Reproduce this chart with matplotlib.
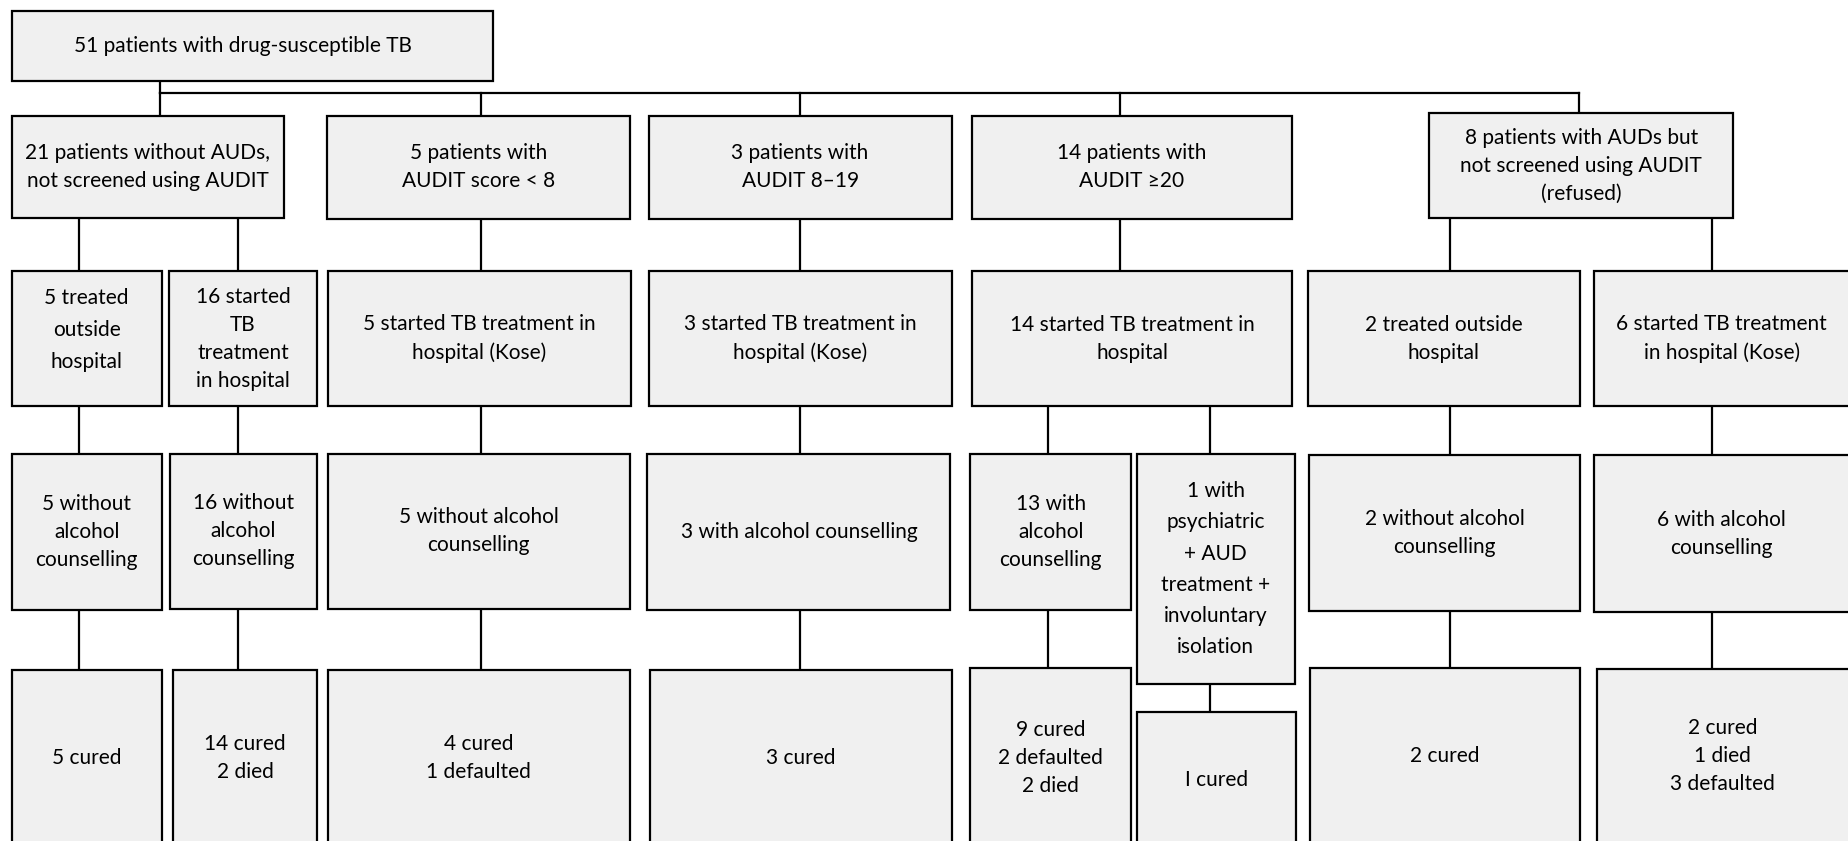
import matplotlib.pyplot as plt
from matplotlib.patches import Rectangle

# Box texts of the flowchart
root_label = "51 patients with drug-susceptible TB"
group_labels = [
    "21 patients without AUDs,\nnot screened using AUDIT",
    "5 patients with\nAUDIT score < 8",
    "3 patients with\nAUDIT 8\u201319",
    "14 patients with\nAUDIT \u226520",
    "8 patients with AUDs but\nnot screened using AUDIT\n(refused)",
]
start_labels = [
    "5 treated\noutside\nhospital",
    "16 started\nTB\ntreatment\nin hospital",
    "5 started TB treatment in\nhospital (Kose)",
    "3 started TB treatment in\nhospital (Kose)",
    "14 started TB treatment in\nhospital",
    "2 treated outside\nhospital",
    "6 started TB treatment\nin hospital (Kose)",
]
counsel_labels = [
    "5 without\nalcohol\ncounselling",
    "16 without\nalcohol\ncounselling",
    "5 without alcohol\ncounselling",
    "3 with alcohol counselling",
    "13 with\nalcohol\ncounselling",
    "1 with\npsychiatric\n+ AUD\ntreatment +\ninvoluntary\nisolation",
    "2 without alcohol\ncounselling",
    "6 with alcohol\ncounselling",
]
outcome_labels = [
    "5 cured",
    "14 cured\n2 died",
    "4 cured\n1 defaulted",
    "3 cured",
    "9 cured\n2 defaulted\n2 died",
    "I cured",
    "2 cured",
    "2 cured\n1 died\n3 defaulted",
]

# layout (x0, y0, x1, y1) in a 1568 x 713 frame, y downwards
root_box = (10, 9, 418, 69)
group_boxes = [(10, 98, 241, 185), (277, 98, 534, 186), (550, 98, 807, 186),
               (824, 98, 1096, 186), (1212, 96, 1470, 185)]
start_boxes = [(10, 230, 137, 344), (143, 230, 269, 344), (278, 230, 535, 344),
               (550, 230, 807, 344), (824, 230, 1096, 344), (1109, 230, 1340, 344),
               (1352, 230, 1580, 344)]
counsel_boxes = [(10, 385, 137, 517), (144, 385, 269, 516), (278, 385, 534, 516),
                 (549, 385, 806, 517), (823, 385, 959, 517), (964, 385, 1098, 580),
                 (1110, 386, 1340, 518), (1352, 386, 1580, 519)]
outcome_boxes = [(10, 568, 137, 725), (147, 568, 269, 725), (278, 568, 534, 725),
                 (551, 568, 807, 725), (823, 566, 959, 725), (964, 604, 1099, 725),
                 (1111, 566, 1340, 725), (1354, 567, 1580, 725)]
outcome_centers = [643, 643, 643, 643, 643, 661, 641, 641]

# connectors: (parent box, child box, x)
group_to_start = [(0, 0, 67), (0, 1, 202), (1, 2, 408), (2, 3, 678),
                  (3, 4, 950), (4, 5, 1230), (4, 6, 1452)]
start_to_counsel = [(0, 0, 67), (1, 1, 202), (2, 2, 408), (3, 3, 678),
                    (4, 4, 889), (4, 5, 1026), (5, 6, 1230), (6, 7, 1452)]
counsel_to_outcome = [(i, i, x) for i, x in
                      enumerate([67, 202, 408, 678, 889, 1026, 1230, 1452])]
group_drop_x = [136, 408, 678, 950, 1339]
bus_y = 79

plt.rcParams['font.family'] = ['Lato', 'DejaVu Sans']

fig = plt.figure(figsize=(18.49, 8.41), dpi=100)
ax = fig.add_axes([0, 0, 1, 1])
ax.set_xlim(0, 1568)
ax.set_ylim(713, 0)
ax.axis('off')

FILL = '#f0f0f0'
LW = 1.6
FS = 15


def draw_box(box, label, yc=None, xc=None, ls=1.5):
    x0, y0, x1, y1 = box
    ax.add_patch(Rectangle((x0, y0), x1 - x0, y1 - y0, facecolor=FILL,
                           edgecolor='black', linewidth=LW, zorder=2))
    if yc is None:
        yc = (y0 + min(y1, 713)) / 2
    if xc is None:
        xc = (x0 + x1) / 2 if x1 < 1575 else (x0 + x1) / 2 - 6
    ax.text(xc, yc, label, ha='center', va='center', fontsize=FS,
            linespacing=ls, zorder=3)


def vline(x, y0, y1):
    ax.plot([x, x], [y0, y1], color='black', linewidth=LW, zorder=1)


draw_box(root_box, root_label, xc=206)
for b, t in zip(group_boxes, group_labels):
    draw_box(b, t)
for i, (b, t) in enumerate(zip(start_boxes, start_labels)):
    if i == 0:
        draw_box(b, t, yc=280, ls=1.75)
    else:
        draw_box(b, t)
for i, (b, t) in enumerate(zip(counsel_boxes, counsel_labels)):
    draw_box(b, t, ls=1.7 if i == 5 else 1.5)
for b, t, yc in zip(outcome_boxes, outcome_labels, outcome_centers):
    draw_box(b, t, yc=yc)

# root to groups
vline(group_drop_x[0], root_box[3], bus_y)
ax.plot([group_drop_x[0], group_drop_x[-1]], [bus_y, bus_y], color='black',
        linewidth=LW, zorder=1)
for x, b in zip(group_drop_x, group_boxes):
    vline(x, bus_y, b[1])

for parents, children, links in [(group_boxes, start_boxes, group_to_start),
                                 (start_boxes, counsel_boxes, start_to_counsel),
                                 (counsel_boxes, outcome_boxes, counsel_to_outcome)]:
    for p, c, x in links:
        vline(x, parents[p][3], children[c][1])

fig.savefig('out.png', dpi=100)
